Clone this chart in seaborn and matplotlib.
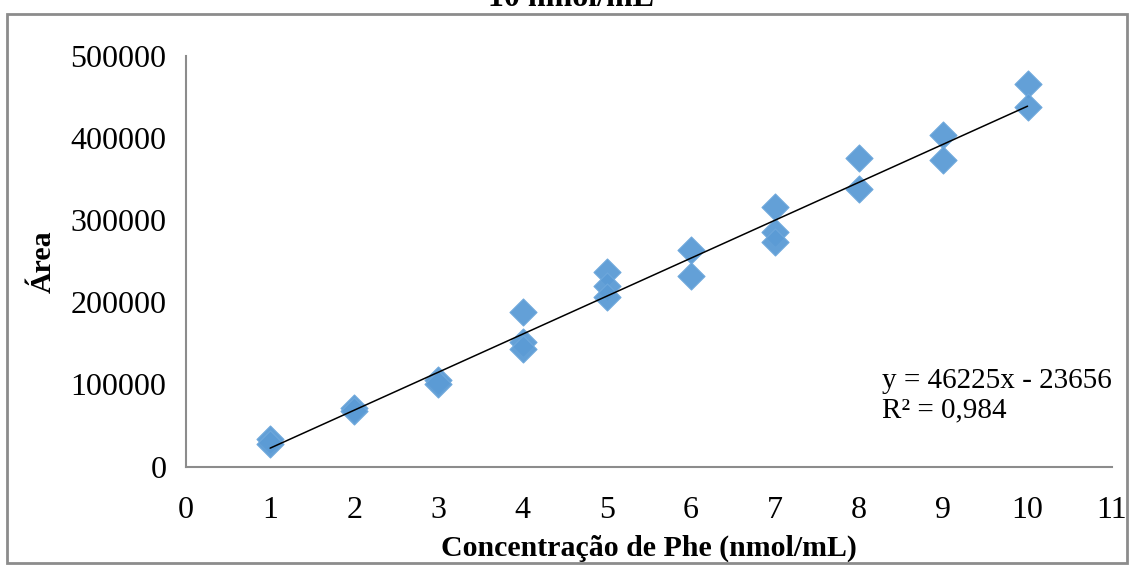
import numpy as np
import pandas as pd
import matplotlib
matplotlib.use("Agg")
import matplotlib.pyplot as plt
from matplotlib.patches import Rectangle
import seaborn as sns

# ── Data ──────────────────────────────────────────────────────
conc = [1, 1, 2, 2, 3, 3,
        4, 4, 4, 5, 5, 5,
        6, 6, 7, 7, 7,
        8, 8, 9, 9, 10, 10]
area = [34000, 28000, 71000, 68000, 105000, 101000,
        188000, 152000, 143000, 237000, 220000, 207000,
        264000, 232000, 316000, 285000, 273000,
        375000, 338000, 403000, 373000, 466000, 437000]
slope = 46225
intercept = -23656
r2_text = "0,984"
x_ticks = list(range(0, 12))
y_ticks = [0, 100000, 200000, 300000, 400000, 500000]

df = pd.DataFrame({"conc": conc, "area": area})

sns.set_theme(style="white")
plt.rcParams["font.family"] = ["Liberation Serif", "DejaVu Serif"]
plt.rcParams["text.color"] = "black"
plt.rcParams["axes.labelcolor"] = "black"

fig = plt.figure(figsize=(11.3, 5.65), dpi=100)
ax = fig.add_axes([0.1646, 0.174, 0.8192, 0.7274])

# ── Points ─────────────────────────────────────────────────────
sns.scatterplot(data=df, x="conc", y="area", marker="D", s=190,
                color="#5B9BD5", edgecolor="#6EA8DC", linewidth=0.8,
                alpha=0.95, ax=ax, zorder=2)

# ── Linear trendline ──────────────────────────────────────────
xs = np.array([min(conc), max(conc)])
ax.plot(xs, slope * xs + intercept, color="black", lw=1.1, zorder=3)

ax.set_xlim(0, 11)
ax.set_ylim(0, 500000)
ax.set_xticks(x_ticks)
ax.set_yticks(y_ticks)
ax.set_xticklabels([str(t) for t in x_ticks])
ax.set_yticklabels([str(t) for t in y_ticks])

for side in ("top", "right"):
    ax.spines[side].set_visible(False)
for side in ("left", "bottom"):
    ax.spines[side].set_color("#8c8c8c")
    ax.spines[side].set_linewidth(1.5)
ax.tick_params(axis="both", which="major", direction="out", length=8,
               width=1.2, color="#8c8c8c", labelsize=23, labelcolor="black")
ax.tick_params(axis="x", pad=13)
ax.tick_params(axis="y", pad=6)

ax.set_xlabel("Concentração de Phe (nmol/mL)", fontsize=21.5,
              fontweight="bold", labelpad=7)
ax.set_ylabel("Área", fontsize=21.5, fontweight="bold", labelpad=10)

# trendline equation, two lines
ax.text(8.27, 96000, f"y = {slope}x - {abs(intercept)}", fontsize=21,
        ha="left", va="baseline")
ax.text(8.27, 59500, f"R² = {r2_text}", fontsize=21,
        ha="left", va="baseline")

# ── Chart border and clipped title ─────────────────────────────
fig.patches.append(Rectangle((0.006, 0.004), 0.991, 0.971,
                             transform=fig.transFigure, fill=False,
                             edgecolor="#8c8c8c", linewidth=2))
fig.text(0.505, 1 - 6 / 565, "10 nmol/mL", fontsize=23,
         fontweight="bold", ha="center", va="baseline")

fig.savefig("out.png", dpi=100)
